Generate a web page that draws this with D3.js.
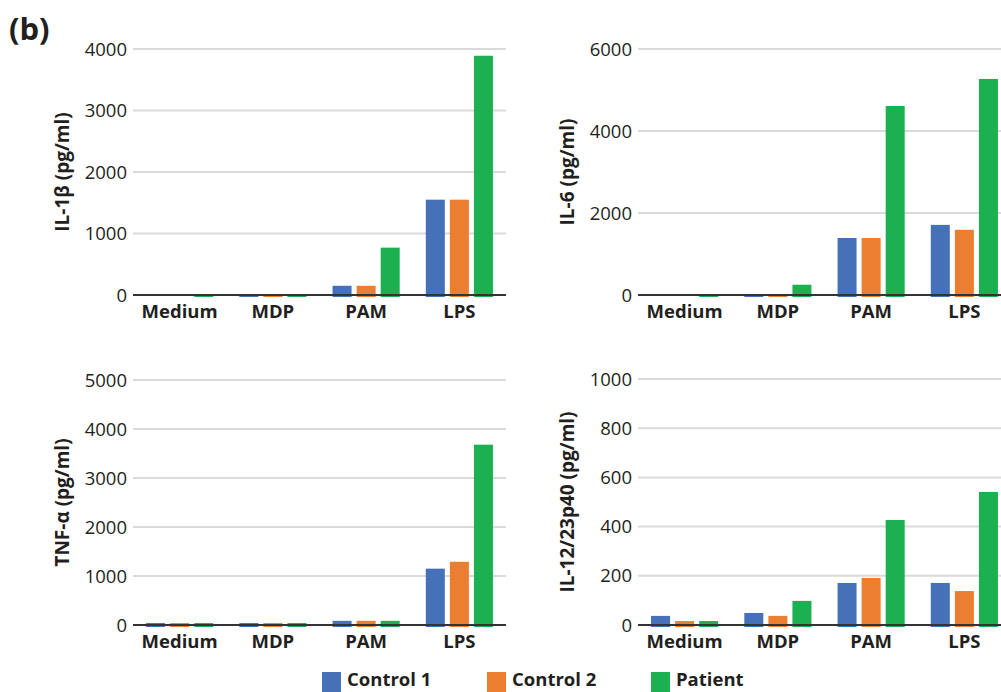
<!DOCTYPE html>
<html>
<head>
<meta charset="utf-8">
<script src="https://cdn.jsdelivr.net/npm/d3@7"></script>
<style>
  html, body { margin: 0; padding: 0; background: #fff; }
  svg { display: block; }
  text { font-family: "Open Sans", "Noto Sans", sans-serif; fill: #231f20; }
</style>
</head>
<body>
<svg id="chart" width="1001" height="692"></svg>
<script>
const categories = ["Medium", "MDP", "PAM", "LPS"];
const seriesNames = ["Control 1", "Control 2", "Patient"];
const seriesColors = ["#4471b8", "#ec7e31", "#1cb050"];

const il1bControl1 = [0, 12, 150, 1550];
const il1bControl2 = [0, 12, 150, 1550];
const il1bPatient  = [12, 12, 770, 3890];
const il1bTicks = [0, 1000, 2000, 3000, 4000];

const il6Control1 = [0, 25, 1390, 1710];
const il6Control2 = [0, 25, 1390, 1590];
const il6Patient  = [25, 250, 4610, 5270];
const il6Ticks = [0, 2000, 4000, 6000];

const tnfControl1 = [40, 40, 85, 1150];
const tnfControl2 = [40, 40, 85, 1290];
const tnfPatient  = [40, 40, 85, 3680];
const tnfTicks = [0, 1000, 2000, 3000, 4000, 5000];

const il12Control1 = [37, 49, 171, 171];
const il12Control2 = [16, 37, 191, 138];
const il12Patient  = [16, 98, 427, 541];
const il12Ticks = [0, 200, 400, 600, 800, 1000];

const panels = [
  { title: "IL-1β (pg/ml)", series: [il1bControl1, il1bControl2, il1bPatient], ticks: il1bTicks,
    x0: 133, x1: 506, yBottom: 295, yTop: 49 },
  { title: "IL-6 (pg/ml)", series: [il6Control1, il6Control2, il6Patient], ticks: il6Ticks,
    x0: 638, x1: 1011, yBottom: 295, yTop: 49 },
  { title: "TNF-α (pg/ml)", series: [tnfControl1, tnfControl2, tnfPatient], ticks: tnfTicks,
    x0: 133, x1: 506, yBottom: 625, yTop: 380 },
  { title: "IL-12/23p40 (pg/ml)", series: [il12Control1, il12Control2, il12Patient], ticks: il12Ticks,
    x0: 638, x1: 1011, yBottom: 625, yTop: 379 }
];

const svg = d3.select("#chart");

svg.append("text")
  .attr("x", 9).attr("y", 40)
  .attr("font-size", 31).attr("font-weight", 700)
  .text("(b)");

panels.forEach(p => {
  const g = svg.append("g");
  const maxTick = d3.max(p.ticks);
  const y = d3.scaleLinear().domain([0, maxTick]).range([p.yBottom, p.yTop]);
  const x = d3.scaleBand().domain(categories).range([p.x0, p.x1])
    .paddingInner(0.28).paddingOuter(0.14);
  const xs = d3.scaleBand().domain(d3.range(seriesNames.length)).range([0, x.bandwidth()])
    .paddingInner(0.21);

  // gridlines
  g.append("g").selectAll("line").data(p.ticks.filter(t => t > 0)).join("line")
    .attr("x1", p.x0).attr("x2", p.x1)
    .attr("y1", d => y(d)).attr("y2", d => y(d))
    .attr("stroke", "#dadada").attr("stroke-width", 2);

  // tick labels
  g.append("g").selectAll("text").data(p.ticks).join("text")
    .attr("x", p.x0 - 6).attr("y", d => y(d))
    .attr("dy", "0.36em")
    .attr("text-anchor", "end")
    .attr("font-size", 18.5)
    .text(d => d);

  // bars
  p.series.forEach((vals, si) => {
    g.append("g").selectAll("rect").data(vals.map((v, i) => ({ v, c: categories[i] })).filter(d => d.v > 0))
      .join("rect")
      .attr("x", d => x(d.c) + xs(si))
      .attr("width", xs.bandwidth())
      .attr("y", d => y(d.v))
      .attr("height", d => y(0) - y(d.v) + 2)
      .attr("fill", seriesColors[si]);
  });

  // baseline
  g.append("line")
    .attr("x1", p.x0).attr("x2", p.x1)
    .attr("y1", y(0)).attr("y2", y(0))
    .attr("stroke", "#333").attr("stroke-width", 2);

  // category labels
  g.append("g").selectAll("text").data(categories).join("text")
    .attr("x", d => x(d) + x.bandwidth() / 2)
    .attr("y", y(0) + 23)
    .attr("text-anchor", "middle")
    .attr("font-size", 18.5).attr("font-weight", 700)
    .text(d => d);

  // y title
  const cy = (p.yBottom + p.yTop) / 2;
  g.append("text")
    .attr("transform", `translate(${p.x0 - 64},${cy}) rotate(-90)`)
    .attr("text-anchor", "middle")
    .attr("font-size", 19).attr("font-weight", 700)
    .text(p.title);
});

// legend
const legendX = [322, 487, 651];
const lg = svg.append("g");
seriesNames.forEach((name, i) => {
  lg.append("rect").attr("x", legendX[i]).attr("y", 672).attr("width", 19).attr("height", 20)
    .attr("fill", seriesColors[i]);
  lg.append("text").attr("x", legendX[i] + 25).attr("y", 686)
    .attr("font-size", 18.5).attr("font-weight", 700)
    .text(name);
});
</script>
</body>
</html>
